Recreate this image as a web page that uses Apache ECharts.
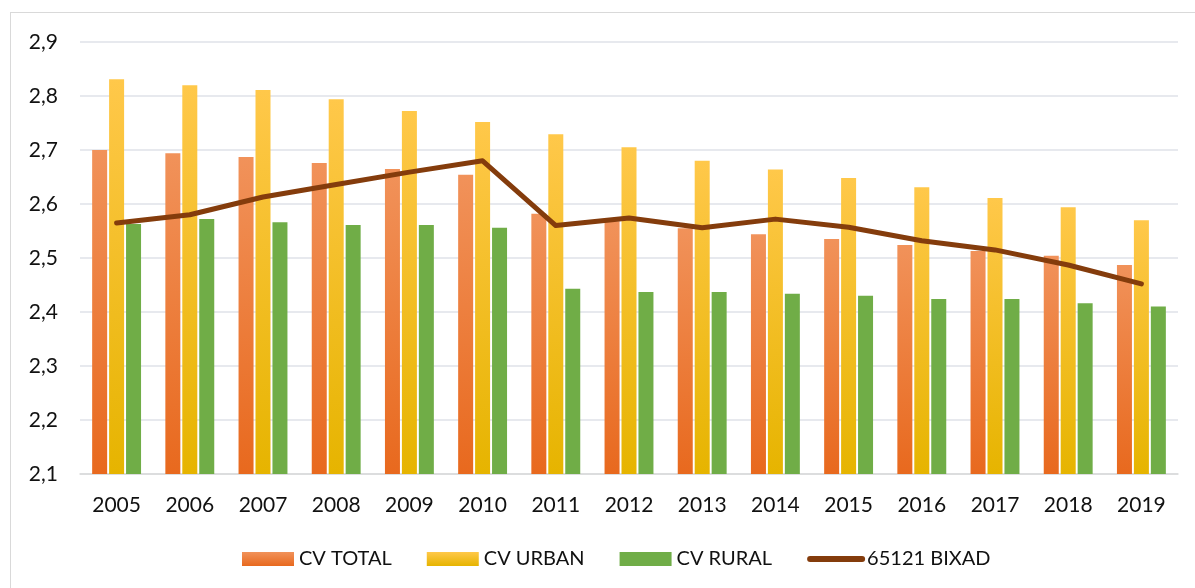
<!DOCTYPE html>
<html>
<head>
<meta charset="utf-8">
<script src="https://cdn.jsdelivr.net/npm/echarts@6/dist/echarts.min.js"></script>
<style>
  html, body { margin: 0; padding: 0; background: #fff; }
  #chart { width: 1195px; height: 588px; }
  #frame { position: absolute; left: 10px; top: 12px; width: 1200px; height: 600px; border: 1px solid #d9d9d9; box-sizing: border-box; }
</style>
</head>
<body>
<div id="frame"></div>
<div id="chart" style="position:absolute;left:0;top:0;"></div>
<script>
// Data
var years = ['2005', '2006', '2007', '2008', '2009', '2010', '2011', '2012', '2013', '2014', '2015', '2016', '2017', '2018', '2019'];
var cvTotal = [2.700, 2.694, 2.687, 2.676, 2.665, 2.654, 2.582, 2.568, 2.555, 2.544, 2.535, 2.524, 2.513, 2.504, 2.487];
var cvUrban = [2.831, 2.820, 2.811, 2.794, 2.772, 2.752, 2.729, 2.705, 2.680, 2.664, 2.648, 2.631, 2.611, 2.594, 2.570];
var cvRural = [2.563, 2.572, 2.566, 2.561, 2.561, 2.556, 2.443, 2.437, 2.437, 2.434, 2.430, 2.424, 2.424, 2.416, 2.410];
var bixad = [2.565, 2.580, 2.613, 2.636, 2.659, 2.680, 2.560, 2.574, 2.556, 2.572, 2.557, 2.532, 2.515, 2.487, 2.452];

var chart = echarts.init(document.getElementById('chart'));

var fontFam = 'Lato, "Open Sans", sans-serif';

function grad(top, bottom) {
  return new echarts.graphic.LinearGradient(0, 0, 0, 1, [
    { offset: 0, color: top },
    { offset: 1, color: bottom }
  ]);
}

var option = {
  animation: false,
  textStyle: { fontFamily: fontFam },
  grid: { left: 80, right: 17, top: 42, bottom: 114 },
  legend: {
    bottom: 14,
    left: 237,
    itemWidth: 52,
    itemHeight: 14,
    itemGap: 35,
    textStyle: { fontSize: 20, color: '#111', fontFamily: fontFam },
    data: [
      { name: 'CV TOTAL', icon: 'rect' },
      { name: 'CV URBAN', icon: 'rect' },
      { name: 'CV RURAL', icon: 'rect' },
      { name: '65121 BIXAD', itemStyle: { opacity: 0 }, lineStyle: { width: 6, cap: 'round' } }
    ]
  },
  xAxis: {
    type: 'category',
    data: years,
    axisLine: { lineStyle: { color: '#d9d9d9', width: 1.5 } },
    axisTick: { show: false },
    axisLabel: { fontSize: 21, color: '#111', margin: 21 }
  },
  yAxis: {
    type: 'value',
    min: 2.1,
    max: 2.9,
    interval: 0.1,
    axisLine: { show: false },
    axisTick: { show: false },
    splitLine: { lineStyle: { color: '#dfe2e8', width: 1.5 } },
    axisLabel: {
      fontSize: 21,
      color: '#111',
      margin: 22,
      formatter: function (v) { return v.toFixed(1).replace('.', ','); }
    }
  },
  series: [
    {
      name: 'CV TOTAL',
      type: 'bar',
      data: cvTotal,
      barWidth: 15,
      barGap: '13%',
      itemStyle: { color: grad('#F1925A', '#E8691E') }
    },
    {
      name: 'CV URBAN',
      type: 'bar',
      data: cvUrban,
      barWidth: 15,
      barGap: '13%',
      itemStyle: { color: grad('#FFC84A', '#E6B400') }
    },
    {
      name: 'CV RURAL',
      type: 'bar',
      data: cvRural,
      barWidth: 15,
      barGap: '13%',
      itemStyle: { color: '#70AD47' }
    },
    {
      name: '65121 BIXAD',
      type: 'line',
      data: bixad,
      symbol: 'none',
      z: 5,
      itemStyle: { color: '#843C0C' },
      lineStyle: { color: '#843C0C', width: 5, cap: 'round', join: 'round' }
    }
  ]
};

chart.setOption(option);
</script>
</body>
</html>
